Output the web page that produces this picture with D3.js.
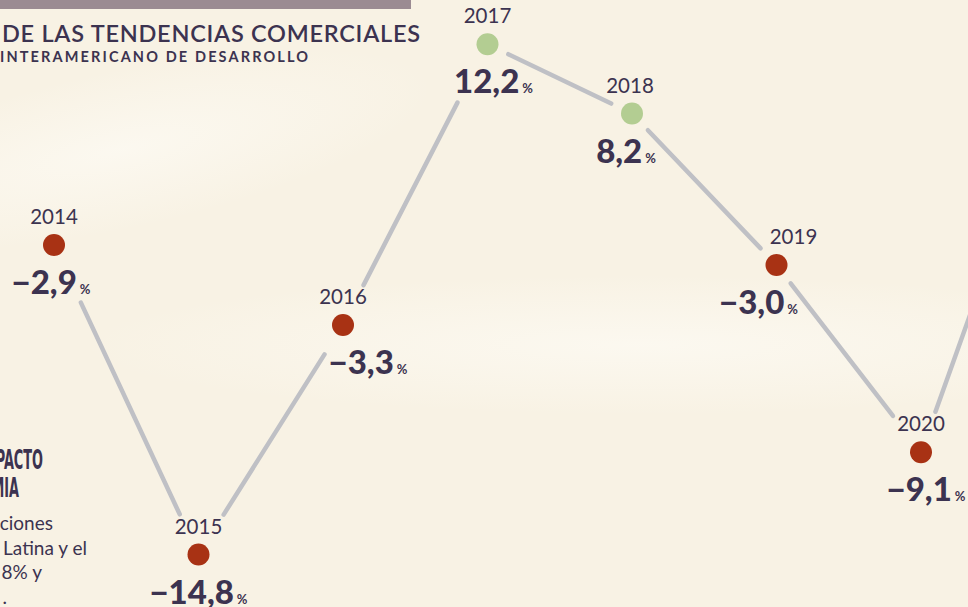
<!DOCTYPE html>
<html>
<head>
<meta charset="utf-8">
<script src="https://cdn.jsdelivr.net/npm/d3@7"></script>
<style>
    html, body { margin: 0; padding: 0; background: #f8f2e4; overflow: hidden; }
    svg { display: block; }
    text { font-family: Lato, "Noto Sans", sans-serif; fill: #3c3350; }
</style>
</head>
<body>
<svg id="chart" width="968" height="607"></svg>
<script>
// variación anual de las exportaciones (%)
const years = [2014, 2015, 2016, 2017, 2018, 2019, 2020, 2021];
const values = [-2.9, -14.8, -3.3, 12.2, 8.2, -3.0, -9.1, 12.0]; // 2021 fuera del recorte, estimado por la línea

const titleLines = ["DE LAS TENDENCIAS COMERCIALES", "INTERAMERICANO DE DESARROLLO"];
const boxTitle = ["IMPACTO", "PANDEMIA"];
const boxText = ["ciones", "Latina y el", "8% y", "."];

const W = 968, H = 607;
const svg = d3.select("#chart");

// formato con coma decimal
const es = d3.formatLocale({ decimal: ",", thousands: ".", grouping: [3], currency: ["", ""], minus: "\u2212" });
const fmt = es.format(".1f");

// --- fondo con bandas suaves ---
const defs = svg.append("defs");
const glow = defs.append("radialGradient").attr("id", "glow");
glow.append("stop").attr("offset", "0%").attr("stop-color", "#fcf9f1").attr("stop-opacity", 0.9);
glow.append("stop").attr("offset", "100%").attr("stop-color", "#fcf9f1").attr("stop-opacity", 0);

svg.append("rect").attr("width", W).attr("height", H).attr("fill", "#f8f2e4");
svg.append("ellipse").attr("cx", 640).attr("cy", 345).attr("rx", 560).attr("ry", 70).attr("fill", "url(#glow)");
svg.append("ellipse").attr("cx", 120).attr("cy", 150).attr("rx", 320).attr("ry", 80).attr("fill", "url(#glow)")
    .attr("transform", "rotate(-12 120 150)");

// --- cabecera ---
svg.append("rect").attr("x", 0).attr("y", 0).attr("width", 411).attr("height", 9).attr("fill", "#9b8b92");
svg.append("text").attr("x", 2).attr("y", 42)
    .attr("textLength", 418).attr("lengthAdjust", "spacing")
    .style("font-size", "23.5px").style("font-weight", 600)
    .text(titleLines[0]);
svg.append("text").attr("x", 0).attr("y", 62)
    .attr("textLength", 308).attr("lengthAdjust", "spacing")
    .style("font-size", "14.5px").style("font-weight", 700)
    .text(titleLines[1]);

// --- recuadro de texto a la izquierda (texto alineado a la izquierda, recortado) ---
svg.selectAll(".box-title").data(boxTitle).enter().append("text")
    .attr("class", "box-title")
    .attr("transform", (d, i) => `translate(${[43, 19][i]},${469 + i * 28}) scale(0.55,1)`)
    .attr("text-anchor", "end")
    .style("font-family", "'Liberation Sans Narrow', 'DejaVu Sans Condensed', sans-serif")
    .style("font-size", "26px").style("font-weight", 700)
    .text(d => d);

svg.selectAll(".box-text").data(boxText).enter().append("text")
    .attr("class", "box-text")
    .attr("x", (d, i) => [53, 87, 42, 7][i])
    .attr("y", (d, i) => 530 + i * 24.5)
    .attr("text-anchor", "end")
    .style("font-size", "19px")
    .text(d => d);

// --- escalas ---
const x = d3.scaleLinear().domain([2014, 2020]).range([54, 921]);
const y = d3.scaleLinear()
    .domain([-15, -10, -3.3, -2.9, 8, 12.5])
    .range([558, 472, 325, 245, 117, 39]);

const data = years.map((yr, i) => ({ year: yr, value: values[i], x: x(yr), y: y(values[i]) }));

// pequeños ajustes para que las etiquetas no choquen con la línea
const valueNudge = { 2014: -3, 2016: 25, 2017: 6, 2018: -6, 2019: -18, 2020: 5 };
const yearNudge = { 2018: -2, 2019: 17 };

const lineLayer = svg.append("g");
const pointLayer = svg.append("g");

const YEAR_FS = 20.5, NUM_FS = 33, PCT_FS = 13, PAD = 4;

data.forEach(d => {
    const g = pointLayer.append("g");
    d.boxes = [];

    const yx = d.x + (yearNudge[d.year] || 0), yb = d.y - 21;
    const yt = g.append("text").attr("x", yx).attr("y", yb)
        .attr("text-anchor", "middle").style("font-size", YEAR_FS + "px").text(d.year);
    let bb = yt.node().getBBox();
    d.boxes.push({ x0: bb.x - PAD, x1: bb.x + bb.width + PAD, y0: yb - 0.72 * YEAR_FS - PAD, y1: yb + PAD });

    g.append("circle").attr("cx", d.x).attr("cy", d.y).attr("r", 11)
        .attr("fill", d.value >= 0 ? "#b3cd92" : "#a83214");

    // valor + %
    const vb = d.y + 49;
    const num = g.append("text").attr("y", vb)
        .style("font-size", NUM_FS + "px").style("font-weight", 900).text(fmt(d.value));
    const pct = g.append("text").attr("y", vb)
        .style("font-size", PCT_FS + "px").style("font-weight", 700).text("%");
    const nw = num.node().getComputedTextLength();
    const pw = pct.node().getComputedTextLength();
    const left = d.x + (valueNudge[d.year] || 0) - (nw + 3 + pw) / 2;
    num.attr("x", left);
    pct.attr("x", left + nw + 3);
    d.boxes.push({ x0: left - PAD, x1: left + nw + PAD, y0: vb - 0.72 * NUM_FS - PAD, y1: vb + 5 + PAD });
    d.boxes.push({ x0: left + nw + 3 - PAD, x1: left + nw + 3 + pw + PAD, y0: vb - 0.72 * PCT_FS - PAD, y1: vb + PAD });
});

// --- tramos de línea, recortados alrededor de cada punto y sus etiquetas ---
function blocked(p, d) {
    const [px, py] = p;
    if (Math.hypot(px - d.x, py - d.y) < 23) return true;
    return d.boxes.some(b => px > b.x0 && px < b.x1 && py > b.y0 && py < b.y1);
}

const STEP = 0.002;
const segments = d3.pairs(data).map(([a, b]) => {
    const at = t => [a.x + (b.x - a.x) * t, a.y + (b.y - a.y) * t];
    const ts = d3.range(0, 1 + STEP / 2, STEP);
    // último punto bloqueado cerca de a, primero bloqueado cerca de b
    const t0 = d3.max(ts.filter(t => t <= 0.5 && blocked(at(t), a))) + STEP;
    const t1 = d3.min(ts.filter(t => t >= 0.5 && blocked(at(t), b))) - STEP;
    return [at(t0), at(t1)];
});

lineLayer.selectAll("line").data(segments).enter().append("line")
    .attr("x1", d => d[0][0]).attr("y1", d => d[0][1])
    .attr("x2", d => d[1][0]).attr("y2", d => d[1][1])
    .attr("stroke", "#bfc0c5")
    .attr("stroke-width", 4.5)
    .attr("stroke-linecap", "round");
</script>
</body>
</html>
